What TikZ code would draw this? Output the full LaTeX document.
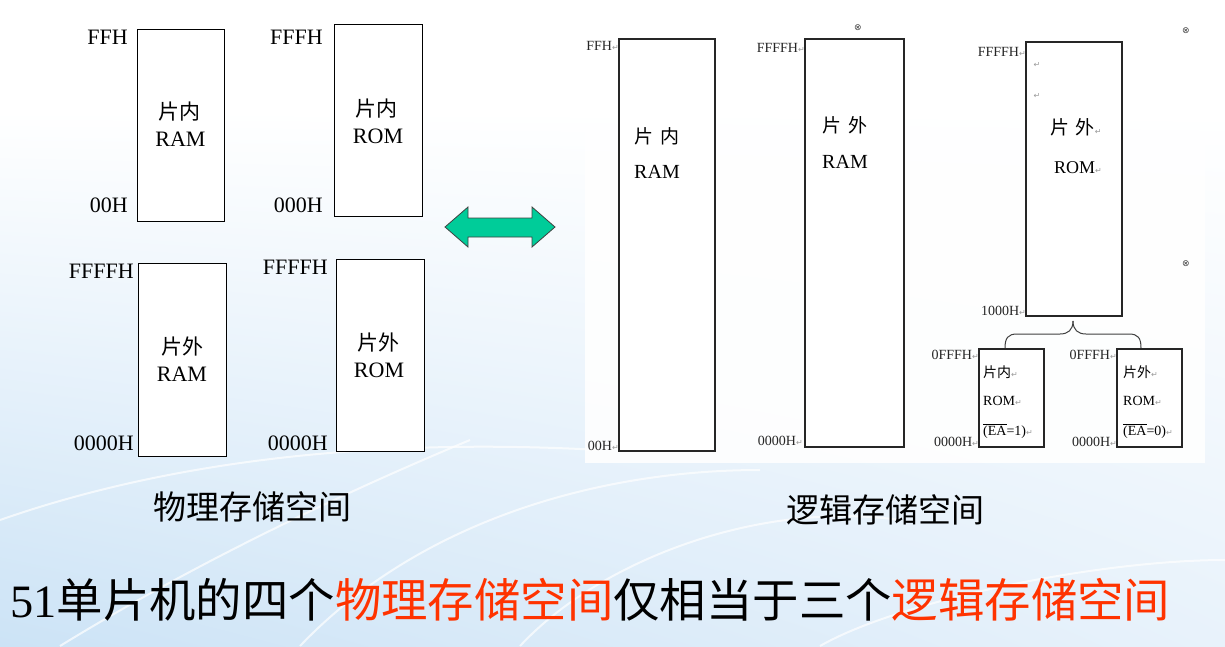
\documentclass[tikz,border=0pt]{standalone}
\usepackage{fontspec}
\setmainfont{Liberation Serif}
\newfontfamily\cjk{Noto Sans CJK SC}
\newfontfamily\sym{DejaVu Sans}
\usetikzlibrary{calc,shadings}
\definecolor{arrowgreen}{HTML}{00CC99}
\definecolor{redtxt}{HTML}{FF3300}
\definecolor{bgblue}{HTML}{CCE3F6}
\definecolor{bgright}{HTML}{E8F2FB}
\definecolor{smallgray}{HTML}{262626}
\definecolor{markgray}{HTML}{9A9A9A}
\newcommand{\ret}{{\sym\fontsize{8pt}{8pt}\selectfont\color{markgray}↵}}
\tikzset{
  membox/.style={draw=black, line width=1pt, fill=white, rectangle, inner sep=0pt, outer sep=0pt},
  rbox/.style={draw=black!85, line width=1.2pt, fill=white, rectangle, inner sep=0pt, outer sep=0pt},
  addr/.style={font=\fontsize{22pt}{22pt}\selectfont, inner sep=0pt},
  boxcjk/.style={font=\cjk\fontsize{21pt}{21pt}\selectfont, inner sep=0pt},
  boxlat/.style={font=\fontsize{22pt}{22pt}\selectfont, inner sep=0pt},
  saddr/.style={font=\fontsize{14pt}{14pt}\selectfont, text=smallgray, inner sep=0pt, anchor=east},
  rcjk/.style={font=\cjk\fontsize{19pt}{19pt}\selectfont, inner sep=0pt},
  rlat/.style={font=\fontsize{20pt}{20pt}\selectfont, inner sep=0pt},
  tcjk/.style={font=\cjk\fontsize{14pt}{14pt}\selectfont, inner sep=0pt, anchor=west},
  tlat/.style={font=\fontsize{14pt}{14pt}\selectfont, inner sep=0pt, anchor=west},
  anchormark/.style={font=\sym\fontsize{9pt}{9pt}\selectfont, text=black!75, inner sep=0pt},
  retmark/.style={inner sep=0pt},
  caption/.style={font=\cjk\fontsize{33pt}{33pt}\selectfont, inner sep=0pt},
  bgarc/.style={draw=white, line width=2pt, opacity=0.7}
}
\begin{document}
\begin{tikzpicture}[x=1pt,y=-1pt]
\useasboundingbox (0,0) rectangle (1225,646);
% background
\fill[white] (0,0) rectangle (1225,646);
\shade[upper left=white, upper right=white, lower left=bgblue, lower right=bgright] (0,110) rectangle (1225,646);
\draw[bgarc] (0,520) .. controls (200,450) and (420,440) .. (600,450);
\draw[bgarc] (60,646) .. controls (200,560) and (350,490) .. (470,440);
\draw[bgarc] (520,646) .. controls (600,560) and (760,500) .. (900,520);
\draw[bgarc] (300,646) .. controls (420,520) and (600,470) .. (760,470);
\draw[bgarc] (820,646) .. controls (900,600) and (1100,560) .. (1225,560);
\fill[white, opacity=0.9] (585,12) rectangle (1205,463);

% ---------- physical memory (left) ----------
\node[membox, minimum width=87pt, minimum height=192pt] (p1) at (180.5,125) {};
\node[membox, minimum width=88pt, minimum height=192pt] (p2) at (378,120) {};
\node[membox, minimum width=88pt, minimum height=193pt] (p3) at (182,359.5) {};
\node[membox, minimum width=88pt, minimum height=192pt] (p4) at (380,355) {};

\node[addr, anchor=base east] (p1hi) at (128,44) {FFH};
\node[addr, anchor=base east] (p1lo) at (128,212) {00H};
\node[addr, anchor=base east] (p2hi) at (323,44) {FFFH};
\node[addr, anchor=base east] (p2lo) at (323,212) {000H};
\node[addr, anchor=base east] (p3hi) at (134,278) {FFFFH};
\node[addr, anchor=base east] (p3lo) at (134,450) {0000H};
\node[addr, anchor=base east] (p4hi) at (328,274) {FFFFH};
\node[addr, anchor=base east] (p4lo) at (328,450) {0000H};

\node[boxcjk] (p1a) at (179,112) {片内};
\node[boxlat] (p1b) at (180.5,139) {RAM};
\node[boxcjk] (p2a) at (376,109) {片内};
\node[boxlat] (p2b) at (378,136) {ROM};
\node[boxcjk] (p3a) at (182,347) {片外};
\node[boxlat] (p3b) at (182,374) {RAM};
\node[boxcjk] (p4a) at (378,343) {片外};
\node[boxlat] (p4b) at (379,370) {ROM};

\node[caption] (physcap) at (252,507) {物理存储空间};

% ---------- double arrow ----------
\draw[fill=arrowgreen, draw=black!75, line width=0.8pt, line join=miter]
  (445,227) -- (468,207) -- (468,218) -- (532,218) -- (532,207) -- (555,227)
  -- (532,247) -- (532,237) -- (468,237) -- (468,247) -- cycle;

% ---------- logical memory (right) ----------
\node[rbox, minimum width=96pt, minimum height=412pt] (r1) at (667,245) {};
\node[rbox, minimum width=99pt, minimum height=408pt] (r2) at (854.5,243) {};
\node[rbox, minimum width=96pt, minimum height=274pt] (r3) at (1074,179) {};
\node[rbox, minimum width=65pt, minimum height=98pt] (r4) at (1011.5,398) {};
\node[rbox, minimum width=65pt, minimum height=98pt] (r5) at (1149.5,398) {};

\node[saddr] (r1hi) at (619,46) {FFH\ret};
\node[saddr] (r1lo) at (619,446) {00H\ret};
\node[saddr] (r2hi) at (805,48) {FFFFH\ret};
\node[saddr] (r2lo) at (803,441) {0000H\ret};
\node[saddr] (r3hi) at (1026,52) {FFFFH\ret};
\node[saddr] (r3lo) at (1026,311) {1000H\ret};
\node[saddr] (r4hi) at (979,355) {0FFFH\ret};
\node[saddr] (r4lo) at (979,442) {0000H\ret};
\node[saddr] (r5hi) at (1117,355) {0FFFH\ret};
\node[saddr] (r5lo) at (1117,442) {0000H\ret};

\node[rcjk] (r1a) at (657,136) {片\,\,内};
\node[rlat] (r1b) at (657,172) {RAM};
\node[rcjk] (r2a) at (845,125) {片\,\,外};
\node[rlat] (r2b) at (845,162) {RAM};
\node[retmark] (r3m1) at (1037,65) {\ret};
\node[retmark] (r3m2) at (1037,96) {\ret};
\node[rcjk] (r3a) at (1076,127) {片\,\,外\ret};
\node[rlat, font=\fontsize{18pt}{18pt}\selectfont] (r3b) at (1078,168) {ROM\ret};

\node[tcjk] (r4a) at (983,372) {片内\ret};
\node[tlat] (r4b) at (983,401) {ROM\ret};
\node[tlat] (r4c) at (983,431) {$\overline{\hbox{(EA}}$=1)\ret};
\node[tcjk] (r5a) at (1123,372) {片外\ret};
\node[tlat] (r5b) at (1123,401) {ROM\ret};
\node[tlat] (r5c) at (1123,431) {$\overline{\hbox{(EA}}$=0)\ret};

% brace
\coordinate (bt) at ($(r3.south)+(-1,5)$);
\coordinate (bl) at (1005,348);
\coordinate (br) at (1141,348);
\draw[black!75, line width=1pt]
  (bt) .. controls ($(bt)+(0,9)$) and ($(bt)+(-5,13)$) .. ($(bt)+(-13,13)$)
  -- ($(bl)+(12,-14)$) .. controls ($(bl)+(3,-14)$) and ($(bl)+(0,-10)$) .. (bl);
\draw[black!75, line width=1pt]
  (bt) .. controls ($(bt)+(0,9)$) and ($(bt)+(5,13)$) .. ($(bt)+(13,13)$)
  -- ($(br)+(-12,-14)$) .. controls ($(br)+(-3,-14)$) and ($(br)+(0,-10)$) .. (br);

% anchor marks
\node[anchormark] (am1) at (858,28) {⊗};
\node[anchormark] (am2) at (1186,31) {⊗};
\node[anchormark] (am3) at (1186,264) {⊗};

\node[caption] (logcap) at (885,510) {逻辑存储空间};

% ---------- bottom sentence ----------
\node[anchor=west, inner sep=0pt, font=\cjk\fontsize{46.4pt}{46.4pt}\selectfont] (summary) at (10,600)
  {{\rmfamily 51}单片机的四个\textcolor{redtxt}{物理存储空间}仅相当于三个\textcolor{redtxt}{逻辑存储空间}};
\end{tikzpicture}
\end{document}
